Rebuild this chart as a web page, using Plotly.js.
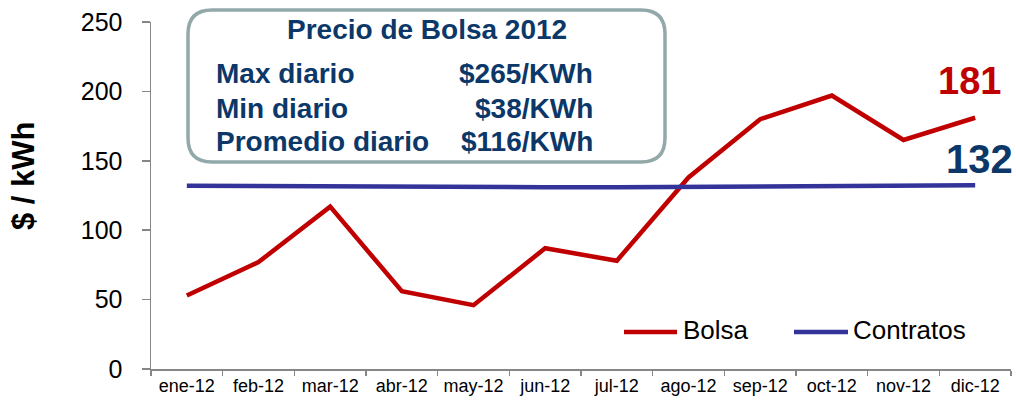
<!DOCTYPE html>
<html>
<head>
<meta charset="utf-8">
<script src="https://cdn.plot.ly/plotly-3.0.1.min.js"></script>
<style>
  html, body { margin: 0; padding: 0; background: #fff; }
  #chart { width: 1016px; height: 400px; }
</style>
</head>
<body>
<div id="chart"></div>
<script>
// Datos
const meses = ['ene-12', 'feb-12', 'mar-12', 'abr-12', 'may-12', 'jun-12',
               'jul-12', 'ago-12', 'sep-12', 'oct-12', 'nov-12', 'dic-12'];
const bolsa = [53, 77, 117, 56, 46, 87, 78, 138, 180, 197, 165, 181];
const contratos = [132, 131.7, 131.6, 131.2, 131, 131, 131, 131.3, 131.6, 132, 131.8, 132.3];
const nombres = ['Bolsa', 'Contratos'];
const yTicks = [0, 50, 100, 150, 200, 250];

// Recuadro de resumen
const tituloCaja = 'Precio de Bolsa 2012';
const statEtiquetas = ['Max diario', 'Min diario', 'Promedio diario'];
const statValores = ['$265/KWh', '$38/KWh', '$116/KWh'];

(function () {
    const FONT = 'Liberation Sans, Arial, sans-serif';
    const ROJO = '#C00000';
    const AZUL = '#333399';
    const NAVY = '#0B3868';
    const GRIS = '#868686';

    // Geometria en pixeles -> coordenadas de papel
    const L = 151, R = 5, T = 22, B = 31, W = 1016, H = 400;
    const pw = W - L - R, ph = H - T - B;
    const px = x => (x - L) / pw;
    const py = y => (H - B - y) / ph;

    const data = [
        { x: meses, y: bolsa, name: nombres[0], type: 'scatter', mode: 'lines',
          line: { color: ROJO, width: 4.5 }, showlegend: false },
        { x: meses, y: contratos, name: nombres[1], type: 'scatter', mode: 'lines',
          line: { color: AZUL, width: 4.5 }, showlegend: false }
    ];

    // Recuadro redondeado
    const x0 = px(188), x1 = px(665), y0 = py(162), y1 = py(10);
    const rx = 24 / pw, ry = 24 / ph;
    const caja = `M${x0 + rx},${y1} L${x1 - rx},${y1} Q${x1},${y1} ${x1},${y1 - ry} ` +
        `L${x1},${y0 + ry} Q${x1},${y0} ${x1 - rx},${y0} L${x0 + rx},${y0} ` +
        `Q${x0},${y0} ${x0},${y0 + ry} L${x0},${y1 - ry} Q${x0},${y1} ${x0 + rx},${y1} Z`;

    const shapes = [
        { type: 'path', xref: 'paper', yref: 'paper', path: caja,
          line: { color: '#93A9A9', width: 3.5 }, fillcolor: '#fff', layer: 'above' },
        // muestras de leyenda
        { type: 'line', xref: 'paper', yref: 'paper', x0: px(624), x1: px(677), y0: py(332), y1: py(332),
          line: { color: ROJO, width: 4.5 } },
        { type: 'line', xref: 'paper', yref: 'paper', x0: px(794), x1: px(848), y0: py(332), y1: py(332),
          line: { color: AZUL, width: 4.5 } }
    ];

    const annotations = [
        // titulo del eje Y
        { xref: 'paper', yref: 'paper', x: px(23), y: py(176), text: '<b>$ / kWh</b>', textangle: -90,
          showarrow: false, xanchor: 'center', yanchor: 'middle', font: { family: FONT, size: 31, color: '#000' } },
        { xref: 'paper', yref: 'paper', x: px(427), y: py(30), text: '<b>' + tituloCaja + '</b>',
          showarrow: false, xanchor: 'center', yanchor: 'middle', font: { family: FONT, size: 28, color: NAVY } },
        // leyenda
        { xref: 'paper', yref: 'paper', x: px(681), y: py(330), text: nombres[0], showarrow: false,
          xanchor: 'left', yanchor: 'middle', font: { family: FONT, size: 26, color: '#000' } },
        { xref: 'paper', yref: 'paper', x: px(851), y: py(330), text: nombres[1], showarrow: false,
          xanchor: 'left', yanchor: 'middle', font: { family: FONT, size: 26, color: '#000' } },
        // etiquetas del ultimo valor
        { x: meses[11], y: bolsa[11], text: '<b>' + Math.round(bolsa[11]) + '</b>', showarrow: false,
          xanchor: 'center', yanchor: 'middle', xshift: -6, yshift: 37, font: { family: FONT, size: 38, color: ROJO } },
        { x: meses[11], y: contratos[11], text: '<b>' + Math.round(contratos[11]) + '</b>', showarrow: false,
          xanchor: 'center', yanchor: 'middle', xshift: 4, yshift: 26, font: { family: FONT, size: 40, color: NAVY } }
    ];

    const filasY = [73, 108, 141];
    statEtiquetas.forEach((t, i) => {
        annotations.push({ xref: 'paper', yref: 'paper', x: px(214), y: py(filasY[i]), text: '<b>' + t + '</b>',
            showarrow: false, xanchor: 'left', yanchor: 'middle', font: { family: FONT, size: 28, color: NAVY } });
        annotations.push({ xref: 'paper', yref: 'paper', x: px(595), y: py(filasY[i]), text: '<b>' + statValores[i] + '</b>',
            showarrow: false, xanchor: 'right', yanchor: 'middle', font: { family: FONT, size: 28, color: NAVY } });
    });

    const layout = {
        width: W, height: H,
        margin: { l: L, r: R, t: T, b: B, pad: 0 },
        paper_bgcolor: '#fff', plot_bgcolor: '#fff',
        font: { family: FONT, color: '#000' },
        showlegend: false,
        xaxis: {
            type: 'category', range: [-0.5, 11.5], fixedrange: true,
            showline: true, linecolor: GRIS, linewidth: 1.5,
            ticks: 'outside', tickson: 'boundaries', ticklen: 5, tickcolor: GRIS, tickwidth: 1.5,
            showgrid: false, zeroline: false,
            tickfont: { family: FONT, size: 18, color: '#000' }
        },
        yaxis: {
            range: [0, 250], tickvals: yTicks, fixedrange: true,
            showline: true, linecolor: GRIS, linewidth: 1.5,
            ticks: 'outside', ticklen: 8, tickcolor: GRIS, tickwidth: 1.5,
            showgrid: false, zeroline: false,
            tickfont: { family: FONT, size: 25, color: '#000' },
            ticklabelstandoff: 14
        },
        shapes: shapes,
        annotations: annotations
    };

    Plotly.newPlot('chart', data, layout, { displayModeBar: false, staticPlot: true });
})();
</script>
</body>
</html>
